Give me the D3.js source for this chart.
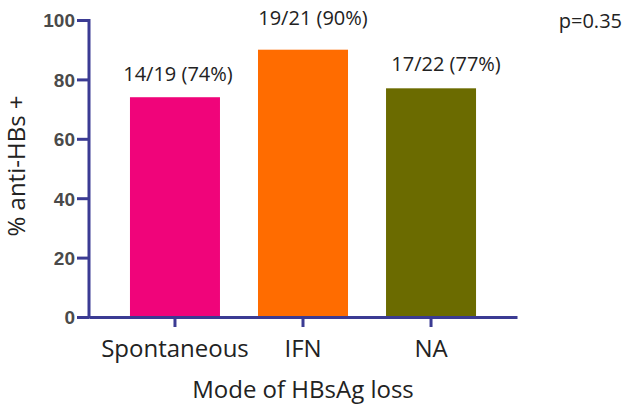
<!DOCTYPE html>
<html>
<head>
<meta charset="utf-8">
<script src="https://cdnjs.cloudflare.com/ajax/libs/d3/7.8.5/d3.min.js"></script>
<style>
    body { margin: 0; background: #fff; }
    svg { display: block; }
</style>
</head>
<body>
<div id="chart"></div>
<script>
(function () {
    'use strict';

    var categories = ['Spontaneous', 'IFN', 'NA'],
        percents = [74, 90, 77],
        labels = ['14/19 (74%)', '19/21 (90%)', '17/22 (77%)'],
        colors = ['#f0047a', '#ff6c00', '#6b6b00'],
        yTicks = [0, 20, 40, 60, 80, 100],
        pValue = 'p=0.35',

        width = 625,
        height = 411,
        margin = {top: 20, right: 108, bottom: 94, left: 89},
        axisColor = '#3b3b93',

        // hand placed labels in the original, so nudge each one a little
        labelNudge = [[3, -16], [10, -25], [15, -17]],

        svg = d3.select('#chart')
            .append('svg')
            .attr('width', width)
            .attr('height', height),

        x = d3.scaleBand()
            .domain(categories)
            .range([margin.left, width - margin.right])
            .paddingInner(0.297)
            .paddingOuter(0.32),

        y = d3.scaleLinear()
            .domain([0, 100])
            .range([height - margin.bottom, margin.top]);

    // bars
    svg.selectAll('.bar')
        .data(categories)
        .enter()
        .append('rect')
        .attr('class', 'bar')
        .attr('x', function (d) { return x(d); })
        .attr('y', function (d, i) { return y(percents[i]); })
        .attr('width', x.bandwidth())
        .attr('height', function (d, i) { return y(0) - y(percents[i]); })
        .style('fill', function (d, i) { return colors[i]; });

    // y axis
    var yAxis = svg.append('g')
        .attr('transform', 'translate(' + margin.left + ',0)')
        .call(d3.axisLeft(y).tickValues(yTicks).tickSize(12).tickPadding(2).tickSizeOuter(0));

    yAxis.select('.domain')
        .attr('d', 'M0,' + (margin.top - 1) + 'V' + (y(0) + 1.5));

    // x axis
    var xAxis = svg.append('g')
        .attr('transform', 'translate(0,' + y(0) + ')')
        .call(d3.axisBottom(x).tickSize(10).tickPadding(8).tickSizeOuter(0));

    svg.selectAll('.domain, .tick line')
        .style('stroke', axisColor)
        .style('stroke-width', '3px');

    yAxis.selectAll('.tick text')
        .style('font-family', '"Liberation Sans", Arial, sans-serif')
        .style('font-weight', 'bold')
        .style('font-size', '19px')
        .style('fill', '#4a4a4a')
        .attr('dy', '0.36em');

    xAxis.selectAll('.tick text')
        .style('font-family', '"Open Sans", sans-serif')
        .style('font-size', '24px')
        .style('fill', '#222')
        .attr('dy', '0.9em');

    // value labels
    svg.selectAll('.val')
        .data(labels)
        .enter()
        .append('text')
        .attr('class', 'val')
        .attr('x', function (d, i) { return x(categories[i]) + x.bandwidth() / 2 + labelNudge[i][0]; })
        .attr('y', function (d, i) { return y(percents[i]) + labelNudge[i][1]; })
        .attr('text-anchor', 'middle')
        .style('font-family', '"Open Sans", sans-serif')
        .style('font-size', '20px')
        .style('fill', '#222')
        .text(function (d) { return d; });

    // p value
    svg.append('text')
        .attr('x', 622)
        .attr('y', 28)
        .attr('text-anchor', 'end')
        .style('font-family', '"Open Sans", sans-serif')
        .style('font-size', '20px')
        .style('fill', '#222')
        .text(pValue);

    // axis titles
    svg.append('text')
        .attr('x', (margin.left + width - margin.right) / 2)
        .attr('y', 398)
        .attr('text-anchor', 'middle')
        .style('font-family', '"Open Sans", sans-serif')
        .style('font-size', '24px')
        .style('fill', '#222')
        .text('Mode of HBsAg loss');

    svg.append('text')
        .attr('transform', 'translate(25,166) rotate(-90)')
        .attr('text-anchor', 'middle')
        .style('font-family', '"Open Sans", sans-serif')
        .style('font-size', '24px')
        .style('fill', '#222')
        .text('% anti-HBs +');
}());
</script>
</body>
</html>
